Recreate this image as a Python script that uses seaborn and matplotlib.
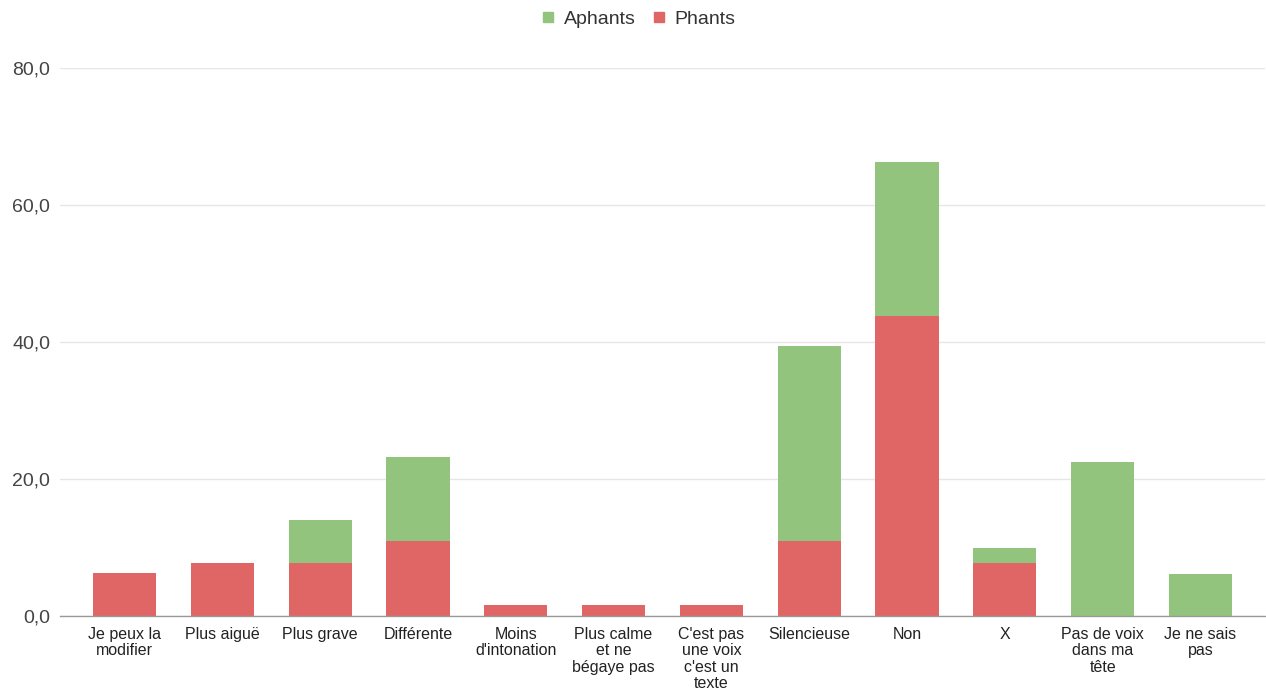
import pandas as pd
import matplotlib.pyplot as plt
import seaborn as sns
from matplotlib.lines import Line2D

# données (en %)
categories = ['Je peux la\nmodifier', 'Plus aiguë', 'Plus grave', 'Différente',
              'Moins\nd\'intonation', 'Plus calme\net ne\nbégaye pas',
              'C\'est pas\nune voix\nc\'est un\ntexte', 'Silencieuse', 'Non', 'X',
              'Pas de voix\ndans ma\ntête', 'Je ne sais\npas']
phants = [6.25, 7.8, 7.8, 10.9, 1.6, 1.6, 1.6, 10.9, 43.75, 7.8, 0.0, 0.0]
aphants = [0.0, 0.0, 6.2, 12.3, 0.0, 0.0, 0.0, 28.5, 22.5, 2.1, 22.5, 6.1]
yticks = [0, 20, 40, 60, 80]

red = '#e06666'
green = '#93c47d'

df = pd.DataFrame({'cat': categories, 'Phants': phants, 'Aphants': aphants})
df['total'] = df['Phants'] + df['Aphants']

sns.set_style('white')
plt.rcParams['font.family'] = ['Liberation Sans', 'DejaVu Sans']

fig = plt.figure(figsize=(12.66, 6.9), dpi=100)
ax = fig.add_axes([60 / 1266, 74 / 690, 1205 / 1266, 548 / 690])

sns.barplot(data=df, x='cat', y='total', color=green, width=0.645,
            saturation=1, linewidth=0, ax=ax, zorder=2)
sns.barplot(data=df, x='cat', y='Phants', color=red, width=0.645,
            saturation=1, linewidth=0, ax=ax, zorder=3)

ax.set_xlim(-0.66, 11.66)
ax.set_ylim(0, 80)
ax.set_yticks(yticks)
ax.set_yticklabels([f'{v:.1f}'.replace('.', ',') for v in yticks],
                   fontsize=14, color='#444444')
ax.tick_params(axis='y', length=0, pad=7)
ax.tick_params(axis='x', length=0, pad=8)
for lab in ax.get_xticklabels():
    lab.set_fontsize(11.5)
    lab.set_color('#222222')
    lab.set_linespacing(1.1)
    lab.set_verticalalignment('top')
ax.set_xlabel('')
ax.set_ylabel('')
ax.grid(axis='y', color='#e6e6e6', linewidth=1, zorder=0)
ax.set_axisbelow(True)
for s in ['top', 'right', 'left']:
    ax.spines[s].set_visible(False)
ax.spines['bottom'].set_color('#999999')
ax.spines['bottom'].set_linewidth(1)
ax.spines['bottom'].set_zorder(4)

handles = [Line2D([], [], marker='s', linestyle='', color=green, markersize=7),
           Line2D([], [], marker='s', linestyle='', color=red, markersize=7)]
fig.legend(handles, ['Aphants', 'Phants'], loc='center', bbox_to_anchor=(0.503, 1 - 19 / 690),
           ncol=2, frameon=False, fontsize=14, handletextpad=0.3, columnspacing=0.7,
           handlelength=1.0, labelcolor='#333333')

plt.savefig('out.png', dpi=100)
plt.close()
